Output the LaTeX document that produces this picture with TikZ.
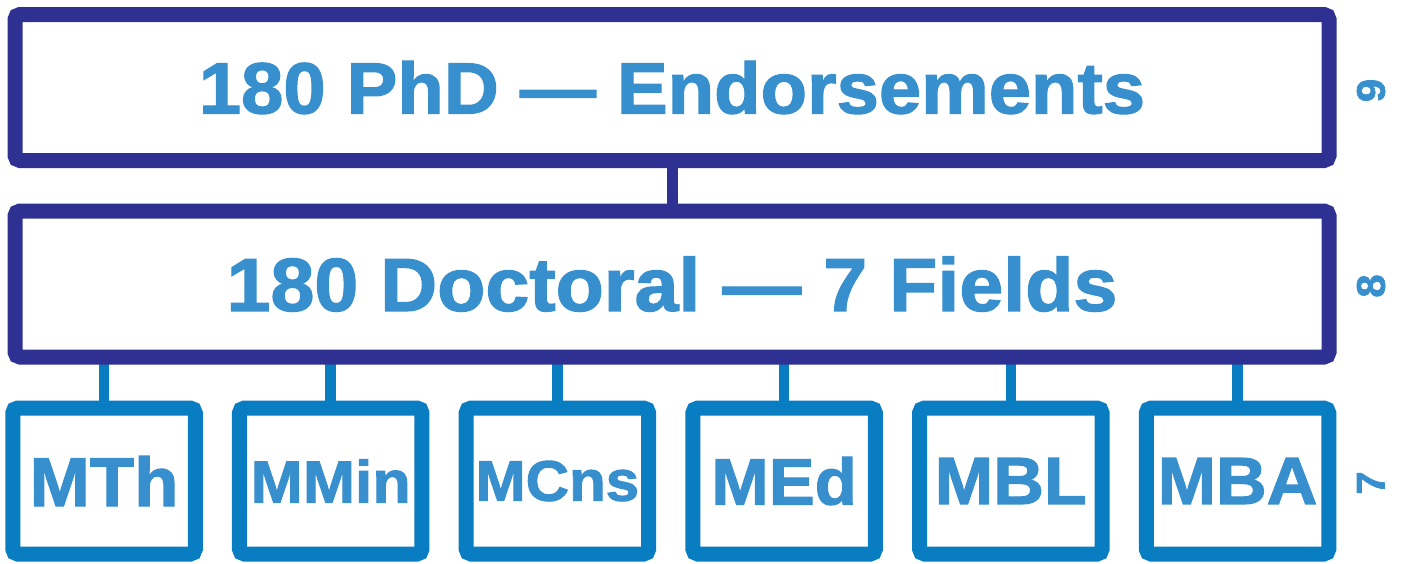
\documentclass[tikz,border=0pt]{standalone}
\usepackage{fontspec}
\usepackage{xcolor}
\usetikzlibrary{positioning, backgrounds, calc}

\newfontfamily\diagfont{Liberation Sans}[FakeStretch=1.05, FakeBold=1.7, Ligatures=TeX]
\newcommand{\labelfont}[1]{\diagfont\bfseries\fontsize{#1}{#1}\selectfont}

\definecolor{navy}{RGB}{46,49,146}
\definecolor{fieldblue}{RGB}{8,125,194}
\definecolor{textblue}{RGB}{56,143,206}

\begin{document}
\begin{tikzpicture}[
        % Styles
        levelbox/.style={rectangle, draw=navy, line width=7.5pt, rounded corners=2.5pt,
                minimum width=657pt, minimum height=73pt, inner sep=0pt, outer sep=0pt,
                text=textblue, align=center},
        fieldbox/.style={rectangle, draw=fieldblue, line width=7.5pt, rounded corners=2.5pt,
                minimum width=91.25pt, minimum height=73pt, inner sep=0pt, outer sep=0pt,
                text=textblue, align=center},
        link/.style={draw=navy, line width=5.5pt},
        fieldlink/.style={draw=fieldblue, line width=5.25pt},
        levelnum/.style={rotate=90, inner sep=0pt, text=textblue, font={\labelfont{20pt}}},
        ]

        \useasboundingbox (0,0) rectangle (700.5pt,-281.5pt);

        % === LEVELS ===
        \node[levelbox, font={\labelfont{36.2pt}}] (phd) at (336pt,-43.75pt) {180 PhD — Endorsements};
        \node[levelbox, font={\labelfont{37.6pt}}, below=25.25pt of phd] (doct) {180 Doctoral — 7 Fields};

        % === FIELDS (Bottom Row) ===
        \node[fieldbox, font={\labelfont{34.5pt}}] (mth) at (52pt,-240.5pt) {MTh};
        \node[fieldbox, font={\labelfont{29.8pt}}, right=22.1pt of mth] (mmin) {MMin};
        \node[fieldbox, font={\labelfont{28.6pt}}, right=22.1pt of mmin] (mcns) {MCns};
        \node[fieldbox, font={\labelfont{32.8pt}}, right=22.1pt of mcns] (med) {MEd};
        \node[fieldbox, font={\labelfont{33.4pt}}, right=22.1pt of med] (mbl) {MBL};
        \node[fieldbox, font={\labelfont{33.4pt}}, right=22.1pt of mbl] (mba) {MBA};

        % Level numbers
        \node[levelnum] (num9) at ($(phd.east)+(21pt,-1.5pt)$) {9};
        \node[levelnum] (num8) at ($(doct.east)+(21pt,-1pt)$) {8};
        \node[levelnum] (num7) at ($(mba.east)+(21pt,-1pt)$) {7};

        % Connections
        \begin{scope}[on background layer]
            \draw[link] (phd.south) -- (doct.north);
            \foreach \f in {mth, mmin, mcns, med, mbl, mba}
                \draw[fieldlink] (\f.north |- doct.south) -- (\f.north);
        \end{scope}

    \end{tikzpicture}
\end{document}
